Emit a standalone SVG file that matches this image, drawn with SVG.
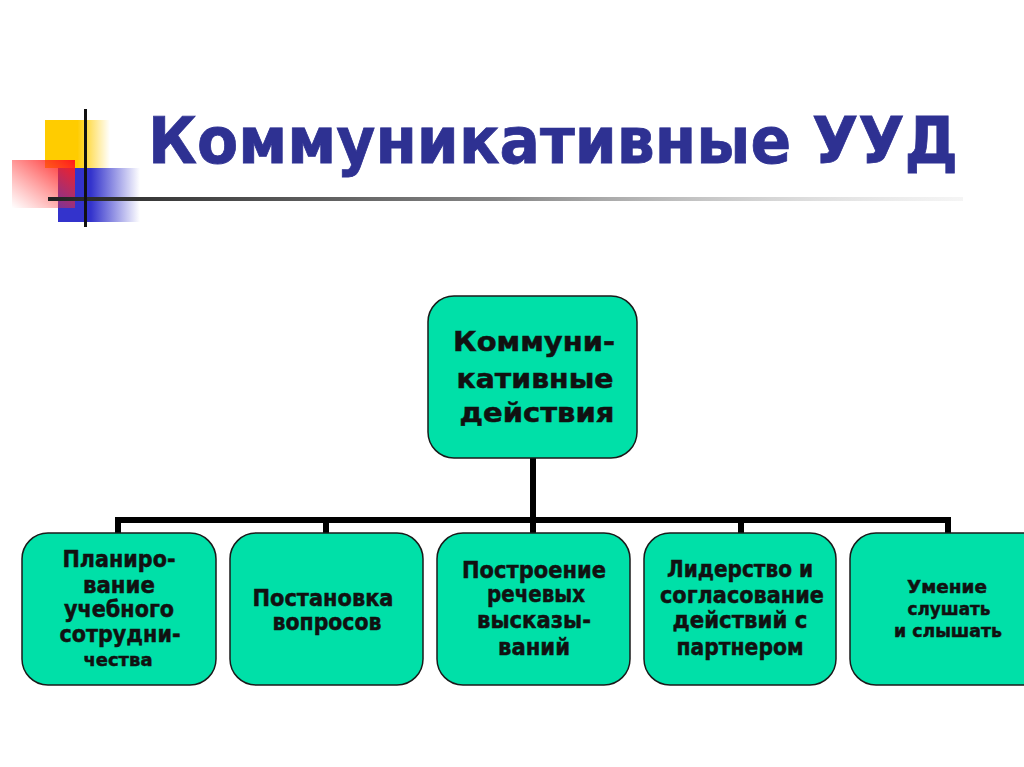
<svg xmlns="http://www.w3.org/2000/svg" width="1024" height="767" viewBox="0 0 1024 767">
<defs>
<linearGradient id="gy" x1="0" y1="0" x2="1" y2="0"><stop offset="0.5" stop-color="#ffcc00"/><stop offset="1" stop-color="#ffcc00" stop-opacity="0"/></linearGradient>
<linearGradient id="gr" x1="1" y1="0" x2="0" y2="1"><stop offset="0" stop-color="#ff1a1a"/><stop offset="1" stop-color="#ff4040" stop-opacity="0"/></linearGradient>
<linearGradient id="gb" x1="0" y1="0" x2="1" y2="0"><stop offset="0.4" stop-color="#3333cc"/><stop offset="1" stop-color="#3333cc" stop-opacity="0"/></linearGradient>
<linearGradient id="gl" x1="0" y1="0" x2="1" y2="0"><stop offset="0" stop-color="#222"/><stop offset="0.5" stop-color="#888"/><stop offset="1" stop-color="#ddd" stop-opacity="0.3"/></linearGradient>
<style>
.box{fill:#00e0a8;stroke:#1a1a1a;stroke-width:1.5}
.t{font-family:"DejaVu Sans","Liberation Sans",sans-serif;font-weight:bold;fill:#111;stroke:#111;stroke-width:0.5;text-anchor:middle;font-size:23px}
.s{font-size:18.5px}
.b{font-size:27px}
.c{stroke:#000;stroke-width:6;fill:none}
</style>
</defs>
<rect width="1024" height="767" fill="#fff"/>
<g id="decor">
<rect x="45" y="120" width="65" height="48" fill="url(#gy)"/>
<rect x="58" y="168" width="82" height="54" fill="url(#gb)"/>
<rect x="12" y="160" width="63" height="48" fill="url(#gr)"/>
<rect x="48" y="197" width="915" height="4" fill="url(#gl)"/>
<rect x="84" y="109" width="3" height="118" fill="#111"/>
</g>
<text x="553" y="163" class="t" style="font-size:64px;fill:#2e3192;stroke:#2e3192;stroke-width:0.8" textLength="810" lengthAdjust="spacingAndGlyphs">Коммуникативные УУД</text>
<g id="connectors">
<path class="c" d="M533 458V520M118 533V520H948V533M326 520V533M533 520V533M741 520V533"/>
</g>
<g id="n0">
<rect class="box" x="428" y="296" width="209" height="162" rx="26"/>
<text class="t b" x="534" y="351" textLength="162" lengthAdjust="spacingAndGlyphs">Коммуни-</text>
<text class="t b" x="535" y="388" textLength="157" lengthAdjust="spacingAndGlyphs">кативные</text>
<text class="t b" x="537" y="422" textLength="155" lengthAdjust="spacingAndGlyphs">действия</text>
</g>
<g id="n1">
<rect class="box" x="22" y="533" width="194" height="152" rx="26"/>
<text class="t" x="119" y="567" textLength="113" lengthAdjust="spacingAndGlyphs">Планиро-</text>
<text class="t" x="119" y="593" textLength="72" lengthAdjust="spacingAndGlyphs">вание</text>
<text class="t" x="119" y="617" textLength="110" lengthAdjust="spacingAndGlyphs">учебного</text>
<text class="t" x="120" y="642" textLength="121" lengthAdjust="spacingAndGlyphs">сотрудни-</text>
<text class="t s" x="118" y="666" textLength="69" lengthAdjust="spacingAndGlyphs">чества</text>
</g>
<g id="n2">
<rect class="box" x="230" y="533" width="193" height="152" rx="26"/>
<text class="t" x="323" y="606" textLength="141" lengthAdjust="spacingAndGlyphs">Постановка</text>
<text class="t" x="327" y="630" textLength="109" lengthAdjust="spacingAndGlyphs">вопросов</text>
</g>
<g id="n3">
<rect class="box" x="437" y="533" width="193" height="152" rx="26"/>
<text class="t" x="534" y="578" textLength="144" lengthAdjust="spacingAndGlyphs">Построение</text>
<text class="t" x="536" y="602" textLength="98" lengthAdjust="spacingAndGlyphs">речевых</text>
<text class="t" x="534" y="628" textLength="114" lengthAdjust="spacingAndGlyphs">высказы-</text>
<text class="t" x="534" y="655" textLength="72" lengthAdjust="spacingAndGlyphs">ваний</text>
</g>
<g id="n4">
<rect class="box" x="644" y="533" width="192" height="152" rx="26"/>
<text class="t" x="740" y="577" textLength="146" lengthAdjust="spacingAndGlyphs">Лидерство и</text>
<text class="t" x="742" y="603" textLength="164" lengthAdjust="spacingAndGlyphs">согласование</text>
<text class="t" x="740" y="628" textLength="135" lengthAdjust="spacingAndGlyphs">действий с</text>
<text class="t" x="740" y="655" textLength="127" lengthAdjust="spacingAndGlyphs">партнером</text>
</g>
<g id="n5">
<rect class="box" x="850" y="533" width="200" height="152" rx="26"/>
<text class="t s" x="947" y="593" textLength="80" lengthAdjust="spacingAndGlyphs">Умение</text>
<text class="t s" x="949" y="615" textLength="83" lengthAdjust="spacingAndGlyphs">слушать</text>
<text class="t s" x="948" y="637" textLength="108" lengthAdjust="spacingAndGlyphs">и слышать</text>
</g>
</svg>
